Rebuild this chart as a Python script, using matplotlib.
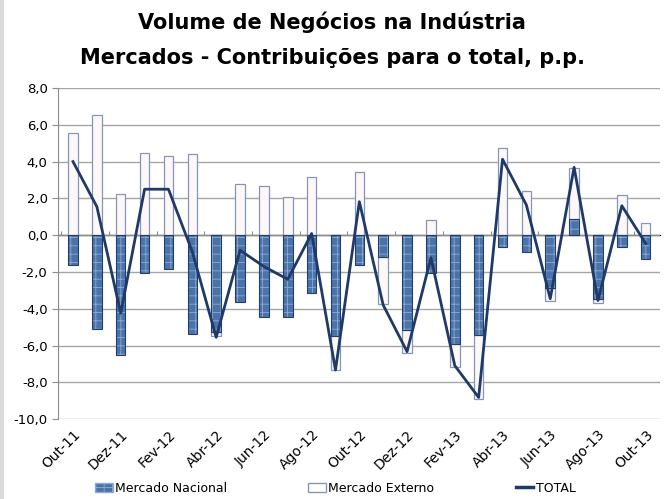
import matplotlib
matplotlib.use("Agg")
import matplotlib.pyplot as plt
import numpy as np
from matplotlib.patches import Patch
from matplotlib.lines import Line2D

# data
months = ["Out-11", "Nov-11", "Dez-11", "Jan-12", "Fev-12", "Mar-12", "Abr-12", "Mai-12",
          "Jun-12", "Jul-12", "Ago-12", "Set-12", "Out-12", "Nov-12", "Dez-12", "Jan-13",
          "Fev-13", "Mar-13", "Abr-13", "Mai-13", "Jun-13", "Jul-13", "Ago-13", "Set-13", "Out-13"]
nacional = [-1.60, -5.11, -6.49, -2.07, -1.82, -5.38, -5.27, -3.62, -4.47, -4.47, -3.13, -5.47, -1.62,
            -1.18, -5.15, -2.04, -5.91, -5.44, -0.64, -0.89, -2.85, 0.86, -3.49, -0.64, -1.27]
externo = [5.55, 6.55, 2.22, 4.45, 4.29, 4.44, -0.23, 2.80, 2.65, 2.07, 3.15, -1.86, 3.42,
           -2.58, -1.25, 0.80, -1.24, -3.47, 4.72, 2.38, -0.73, 2.78, -0.18, 2.20, 0.69]
total = [4.0, 1.55, -4.24, 2.5, 2.5, -0.9, -5.55, -0.82, -1.7, -2.4, 0.09, -7.33, 1.82,
         -3.8, -6.33, -1.22, -7.09, -8.82, 4.13, 1.64, -3.45, 3.69, -3.55, 1.6, -0.45]

nac_color = '#4A73AA'
nac_hatch = '#8FAAD6'
nac_edge = '#243F66'
ext_face = '#FDF7F7'
ext_edge = '#8497B8'
line_color = '#1F3A68'

fig = plt.figure(figsize=(6.64, 4.99), dpi=100)
ax = fig.add_axes([0.0873, 0.160, 0.9067, 0.6636])

x = np.arange(len(months))
nac = np.array(nacional)
ext = np.array(externo)
ext_bottom = np.where(np.sign(ext) == np.sign(nac), nac, 0.0)

w = 0.40
plt.rcParams['hatch.linewidth'] = 0.6
ax.bar(x, nac, w, color=nac_color, hatch='++', edgecolor=nac_hatch, linewidth=0, zorder=3)
ax.bar(x, nac, w, fill=False, edgecolor=nac_edge, linewidth=0.8, zorder=4)
ax.bar(x, ext, w, bottom=ext_bottom, color=ext_face, edgecolor=ext_edge, linewidth=0.9, zorder=3)
ax.plot(x, total, color=line_color, lw=2, zorder=5)

ax.set_ylim(-10, 8)
ax.set_xlim(-0.63, 24.6)
ax.set_yticks(np.arange(-10, 8.1, 2))
ax.set_yticklabels([("%.1f" % v).replace('.', ',') for v in np.arange(-10, 8.1, 2)], fontsize=9.5)
ax.yaxis.grid(True, color='#A6A6A6', lw=1, zorder=0)
ax.set_axisbelow(True)
ax.axhline(0, color='#8C8C8C', lw=1, zorder=2)

ax.set_xticks(x[::2])
ax.set_xticklabels(months[::2], rotation=45, ha='right', rotation_mode='anchor', fontsize=10)
ax.tick_params(axis='x', length=0, pad=6)
ax.tick_params(axis='y', length=4, color='#8C8C8C')

# small ticks on the zero line
sec = ax.secondary_xaxis(10 / 18)
sec.set_xticks(np.arange(-0.5, 25, 2))
sec.set_xticklabels([])
sec.tick_params(length=3, color='#8C8C8C', direction='out')
sec.spines['bottom'].set_visible(False)

for s in ['top', 'right', 'bottom']:
    ax.spines[s].set_visible(False)
ax.spines['left'].set_color('#8C8C8C')

fig.text(0.5, 0.955, "Volume de Negócios na Indústria", ha='center', va='center',
         fontsize=15, fontweight='bold')
fig.text(0.5, 0.884, "Mercados - Contribuições para o total, p.p.", ha='center', va='center',
         fontsize=15, fontweight='bold')

handles = [Patch(facecolor=nac_color, hatch='++', edgecolor=nac_hatch),
           Patch(facecolor='white', edgecolor=ext_edge),
           Line2D([0], [0], color=line_color, lw=2.5)]
fig.legend(handles, ["Mercado Nacional", "Mercado Externo", "TOTAL"], loc='center',
           bbox_to_anchor=(0.505, 0.022), ncol=3, frameon=False, fontsize=9,
           columnspacing=6.5, handlelength=1.4, handletextpad=0.2)

fig.add_artist(Line2D([0.003, 0.003], [0, 1], color='#D9D9D9', lw=3))

fig.savefig("out.png", dpi=100)
